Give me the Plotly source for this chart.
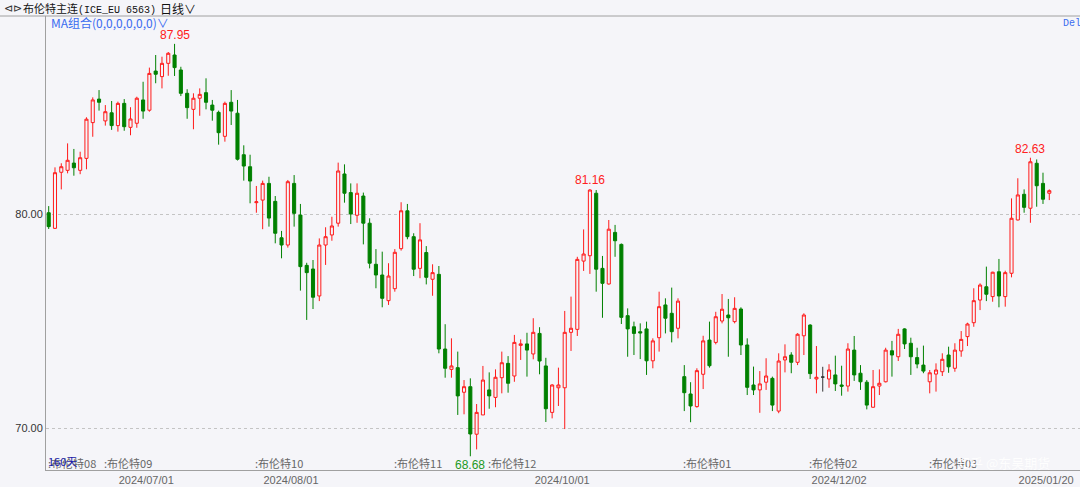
import plotly.graph_objects as go

# ---------------- data ----------------
opens = [80.06, 79.33, 81.95, 82.04, 82.38, 82.04, 82.60, 84.27, 85.37, 84.35,
         84.73, 84.13, 85.17, 84.05, 84.24, 85.33, 84.85, 86.68, 86.42, 87.04,
         87.43, 86.73, 85.64, 84.89, 85.41, 85.67, 85.09, 84.75, 83.63, 85.22,
         84.71, 82.77, 82.21, 80.53, 80.65, 81.43, 80.59, 78.89, 78.55, 81.43,
         79.95, 77.60, 77.43, 76.17, 78.55, 79.02, 79.57, 81.87, 81.00, 79.94,
         80.84, 79.57, 77.65, 77.15, 75.95, 76.51, 78.38, 80.15, 78.94, 77.46,
         78.20, 76.95, 77.18, 73.69, 72.74, 72.82, 71.67, 71.93, 69.71, 70.61,
         71.78, 71.43, 72.35, 73.02, 72.43, 73.86, 73.93, 73.46, 74.42, 72.90,
         70.73, 71.88, 71.88, 74.47, 74.61, 77.80, 78.05, 80.97, 77.46, 76.73,
         79.14, 78.58, 75.25, 74.73, 74.50, 74.63, 73.14, 74.22, 75.75, 75.36,
         74.66, 72.40, 71.59, 71.00, 72.51, 74.11, 74.00, 75.00, 75.28, 74.97,
         75.56, 73.88, 72.01, 71.78, 72.14, 72.32, 70.79, 73.18, 73.41, 73.07,
         74.31, 74.81, 72.29, 72.38, 72.29, 72.48, 72.01, 71.96, 73.64, 72.56,
         72.14, 70.97, 71.96, 72.16, 73.61, 73.33, 74.63, 73.96, 73.29, 72.94,
         72.16, 72.52, 72.63, 73.41, 72.79, 73.60, 74.27, 74.92, 75.98, 76.60,
         76.14, 77.30, 76.14, 77.23, 79.72, 80.92, 80.27, 82.37, 81.43, 80.97]
highs = [80.37, 82.18, 82.37, 83.30, 83.04, 82.91, 84.52, 85.45, 85.79, 85.09,
         85.28, 85.25, 85.37, 84.99, 85.48, 86.18, 86.84, 87.43, 87.35, 87.57,
         87.95, 86.88, 85.83, 85.64, 85.87, 86.34, 85.33, 84.83, 85.25, 85.79,
         85.33, 83.21, 82.77, 81.31, 81.56, 81.74, 80.84, 79.21, 81.59, 81.82,
         80.47, 77.72, 77.85, 78.86, 79.38, 79.87, 82.40, 82.32, 81.43, 81.43,
         81.00, 79.80, 78.36, 78.24, 77.70, 78.36, 80.55, 80.47, 79.10, 79.57,
         78.50, 77.65, 77.57, 74.85, 74.19, 73.57, 72.24, 72.32, 71.12, 72.90,
         72.60, 72.74, 73.57, 73.36, 74.35, 74.14, 74.45, 75.13, 74.71, 73.28,
         72.05, 72.82, 75.47, 76.14, 78.00, 79.28, 81.16, 81.12, 78.04, 79.72,
         79.49, 78.62, 75.59, 74.97, 74.89, 74.97, 74.19, 76.37, 76.06, 76.56,
         76.06, 72.94, 72.14, 72.79, 74.31, 74.97, 75.43, 76.26, 76.03, 76.11,
         75.64, 74.19, 72.87, 72.66, 73.26, 72.40, 73.49, 73.91, 73.54, 74.43,
         75.36, 74.85, 73.83, 72.86, 72.98, 73.38, 72.91, 73.96, 74.30, 72.94,
         72.24, 72.71, 72.74, 73.75, 74.07, 74.63, 74.66, 74.22, 73.75, 73.85,
         72.71, 73.02, 73.49, 73.80, 73.96, 74.53, 74.92, 76.53, 76.76, 77.54,
         77.30, 77.90, 77.35, 80.73, 81.67, 81.15, 82.63, 82.55, 81.93, 81.15]
lows = [79.30, 79.30, 81.15, 81.90, 81.79, 81.86, 82.09, 83.61, 84.83, 84.13,
        83.93, 83.85, 83.89, 83.68, 84.03, 84.45, 84.78, 86.11, 85.87, 86.46,
        86.45, 85.51, 84.45, 83.96, 84.59, 84.89, 84.36, 83.24, 83.38, 84.16,
        82.50, 81.56, 80.50, 80.06, 79.29, 79.41, 78.63, 77.93, 78.43, 79.41,
        76.42, 75.05, 75.56, 75.93, 77.62, 78.75, 79.41, 80.53, 79.53, 79.59,
        78.58, 77.46, 76.53, 75.64, 75.75, 76.37, 78.29, 78.82, 77.10, 77.00,
        76.71, 76.18, 73.49, 72.35, 72.35, 70.61, 70.64, 68.68, 69.00, 70.61,
        70.90, 70.97, 71.62, 71.65, 72.16, 73.18, 72.40, 73.21, 72.51, 70.28,
        70.45, 71.03, 69.95, 73.60, 74.30, 77.34, 77.20, 76.37, 75.15, 76.70,
        78.00, 74.86, 73.33, 73.41, 73.22, 72.48, 72.79, 73.57, 74.42, 74.00,
        74.19, 70.79, 70.27, 70.95, 71.82, 72.82, 73.91, 74.89, 73.33, 74.89,
        73.41, 71.54, 71.54, 70.71, 71.78, 70.79, 70.69, 72.60, 72.56, 72.94,
        73.41, 72.29, 71.62, 71.70, 71.88, 71.73, 71.51, 71.70, 72.20, 71.78,
        70.87, 70.95, 71.54, 72.13, 72.40, 73.13, 73.69, 72.48, 72.79, 72.56,
        71.62, 71.70, 72.43, 72.58, 72.63, 73.33, 73.83, 74.73, 75.51, 75.93,
        75.90, 75.64, 75.67, 77.04, 79.70, 80.06, 79.59, 80.34, 80.47, 80.65]
closes = [79.41, 81.93, 82.21, 82.51, 82.16, 82.63, 84.43, 85.33, 85.22, 84.78,
          84.13, 85.17, 84.08, 84.44, 85.41, 84.81, 86.57, 86.53, 87.04, 87.51,
          86.84, 85.64, 84.97, 85.41, 85.59, 85.22, 84.85, 83.80, 85.17, 84.81,
          82.56, 82.24, 81.54, 80.57, 81.43, 79.81, 79.10, 78.55, 81.51, 80.03,
          77.54, 77.26, 76.11, 78.55, 78.94, 79.44, 82.01, 80.97, 80.00, 80.97,
          79.57, 77.70, 77.15, 76.06, 77.10, 78.21, 80.15, 78.94, 77.42, 78.79,
          77.04, 77.26, 73.69, 72.79, 72.90, 71.50, 71.93, 69.72, 70.73, 72.24,
          71.50, 72.37, 73.05, 72.09, 74.00, 73.93, 73.64, 74.47, 73.13, 70.90,
          72.01, 72.01, 74.47, 74.66, 77.88, 78.13, 81.12, 77.42, 76.76, 79.29,
          78.75, 75.17, 74.63, 74.42, 74.44, 73.14, 74.07, 75.67, 75.13, 74.50,
          75.93, 71.65, 71.03, 72.68, 74.07, 72.91, 75.20, 75.55, 75.15, 75.59,
          73.88, 71.90, 71.78, 72.06, 72.43, 71.07, 73.13, 73.33, 73.07, 74.38,
          75.28, 72.54, 72.37, 72.38, 72.71, 72.06, 71.95, 73.69, 72.48, 72.16,
          71.07, 71.93, 72.09, 73.64, 73.41, 74.38, 73.93, 73.33, 72.99, 72.66,
          72.58, 72.71, 73.21, 72.86, 73.64, 74.14, 74.86, 75.95, 76.68, 76.25,
          77.28, 76.17, 77.26, 79.80, 80.89, 80.31, 82.44, 81.32, 80.69, 81.09]

# date labels (centred at these candle positions)
date_tick_idx = [15.5, 38.5, 81.6, 125.6, 158.5]
date_tick_text = ["2024/07/01", "2024/08/01", "2024/10/01", "2024/12/02", "2025/01/20"]

# contract roll markers (first candle of each contract)
contract_idx = [0, 9, 33, 55, 70, 101, 121, 140]
contract_text = ["布伦特08", "布伦特09", "布伦特10", "布伦特11", "布伦特12",
                 "布伦特01", "布伦特02", "布伦特03"]

price_ticks = [70, 80]
price_tick_text = ["70.00", "80.00"]

mark_idx = [20, 86, 67, 156]
mark_val = [87.95, 81.16, 68.68, 82.63]
mark_kind = ["high", "high", "low", "high"]

# ---------------- figure ----------------
W, H = 1080, 487
BG = "#F5F5F9"
RED = "#FF1A1A"
GREEN = "#008000"
AXIS = "#A0A0A0"

idx = list(range(len(opens)))
main_i = [i for i in idx if opens[i] != closes[i]]
flat_i = [i for i in idx if opens[i] == closes[i]]


def pick(arr, sel):
    return [arr[i] for i in sel]


fig = go.Figure()
fig.add_trace(go.Candlestick(
    x=main_i, open=pick(opens, main_i), high=pick(highs, main_i),
    low=pick(lows, main_i), close=pick(closes, main_i),
    increasing=dict(line=dict(color=RED, width=1), fillcolor=BG),
    decreasing=dict(line=dict(color=GREEN, width=1), fillcolor=GREEN),
    whiskerwidth=0, showlegend=False, hoverinfo="skip"))
if flat_i:
    fig.add_trace(go.Candlestick(
        x=flat_i, open=pick(opens, flat_i), high=pick(highs, flat_i),
        low=pick(lows, flat_i), close=pick(closes, flat_i),
        increasing=dict(line=dict(color="#333333", width=1), fillcolor="#333333"),
        decreasing=dict(line=dict(color="#333333", width=1), fillcolor="#333333"),
        whiskerwidth=0, showlegend=False, hoverinfo="skip"))

# pixel geometry of plot area
L_PX, R_PX, T_PX, B_PX = 46, 1080, 16, 470
x0_px, dx_px = 48.7, 6.293          # centre of first candle, candle spacing
y80_px, py_per_unit = 214.0, 21.4   # pixel of 80.00 and pixels per price unit

x_lo = (L_PX - x0_px) / dx_px
x_hi = (R_PX - x0_px) / dx_px
y_hi = 80 + (y80_px - T_PX) / py_per_unit
y_lo = 80 - (B_PX - y80_px) / py_per_unit

fig.update_layout(
    width=W, height=H,
    margin=dict(l=0, r=0, t=0, b=0),
    paper_bgcolor=BG, plot_bgcolor=BG,
    font=dict(family="Liberation Sans, Arial, sans-serif", size=11, color="#333333"),
    showlegend=False,
    xaxis=dict(
        domain=[L_PX / W, R_PX / W], range=[x_lo, x_hi],
        rangeslider=dict(visible=False),
        showgrid=False, zeroline=False,
        showline=True, linecolor=AXIS, linewidth=1,
        tickmode="array", tickvals=date_tick_idx, ticktext=date_tick_text,
        ticks="", tickfont=dict(size=11, color="#666666"),
    ),
    yaxis=dict(
        domain=[1 - B_PX / H, 1 - T_PX / H], range=[y_lo, y_hi],
        showgrid=True, gridcolor="#C4C4C4", griddash="3px,3px", gridwidth=1,
        zeroline=False, showline=True, linecolor=AXIS, linewidth=1,
        tickmode="array", tickvals=price_ticks, ticktext=price_tick_text,
        ticks="", tickfont=dict(size=11, color="#333333"),
    ),
)

# top separator line
fig.add_shape(type="line", xref="paper", yref="paper", x0=0, x1=1,
              y0=1 - T_PX / H, y1=1 - T_PX / H, line=dict(color=AXIS, width=1))


def px(x):
    return x / W


def py(y):
    return 1 - y / H


ann = []
# header
ann.append(dict(x=px(2), y=py(8), text="⊲⊳", font=dict(size=11, color="#333333"),
                xanchor="left", yanchor="middle"))
ann.append(dict(x=px(21), y=py(8),
                text="布伦特主连<span style='font-family:Liberation Mono, monospace;font-size:10px'>(ICE_EU 6563)</span>",
                font=dict(family="Noto Sans CJK SC", size=11, color="#111111"),
                xanchor="left", yanchor="middle"))
ann.append(dict(x=px(158), y=py(8), text="日线∨",
                font=dict(family="Noto Sans CJK SC", size=12, color="#111111"),
                xanchor="left", yanchor="middle"))
ann.append(dict(x=px(49), y=py(23), text="MA组合(0,0,0,0,0,0)∨",
                font=dict(family="Noto Sans CJK SC", size=12, color="#3A6CF0"),
                xanchor="left", yanchor="middle"))
ann.append(dict(x=px(1061), y=py(24), text="Del",
                font=dict(family="Liberation Mono, monospace", size=10, color="#3A6CF0"),
                xanchor="left", yanchor="middle"))

# contract roll labels (marker sits on the boundary before the first candle)
for i, t in zip(contract_idx, contract_text):
    xpos = max(i - 0.5, x_lo + 0.02)
    ann.append(dict(x=xpos, xref="x", y=py(463), yref="paper", text=":" + t,
                    font=dict(family="Noto Sans CJK SC", size=11, color="#666666"),
                    xanchor="left", yanchor="middle"))
ann.append(dict(x=px(46), y=py(461), text="160天",
                font=dict(family="Noto Sans CJK SC", size=11, color="#1A1AA8"),
                xanchor="left", yanchor="middle"))

# extreme value marks
for i, v, k in zip(mark_idx, mark_val, mark_kind):
    if k == "high":
        ann.append(dict(x=i, y=v, xref="x", yref="y", text=f"{v:.2f}",
                        font=dict(size=12, color="#FF2020"),
                        xanchor="center", yanchor="bottom"))
    else:
        ann.append(dict(x=i, y=v, xref="x", yref="y", text=f"{v:.2f}",
                        font=dict(size=12, color="#1E9A1E"),
                        xanchor="center", yanchor="top"))

# watermark
ann.append(dict(x=px(1003), y=py(462), text="知乎 @东吴期货",
                font=dict(family="Noto Sans CJK SC", size=13, color="#FFFFFF"),
                xanchor="center", yanchor="middle", opacity=0.9))

for a in ann:
    a.setdefault("xref", "paper")
    a.setdefault("yref", "paper")
    a["showarrow"] = False
    fig.add_annotation(**a)

fig.write_html("out.html", config={"displayModeBar": False},
               post_script="document.body.style.margin='0';document.body.style.overflow='hidden';")
